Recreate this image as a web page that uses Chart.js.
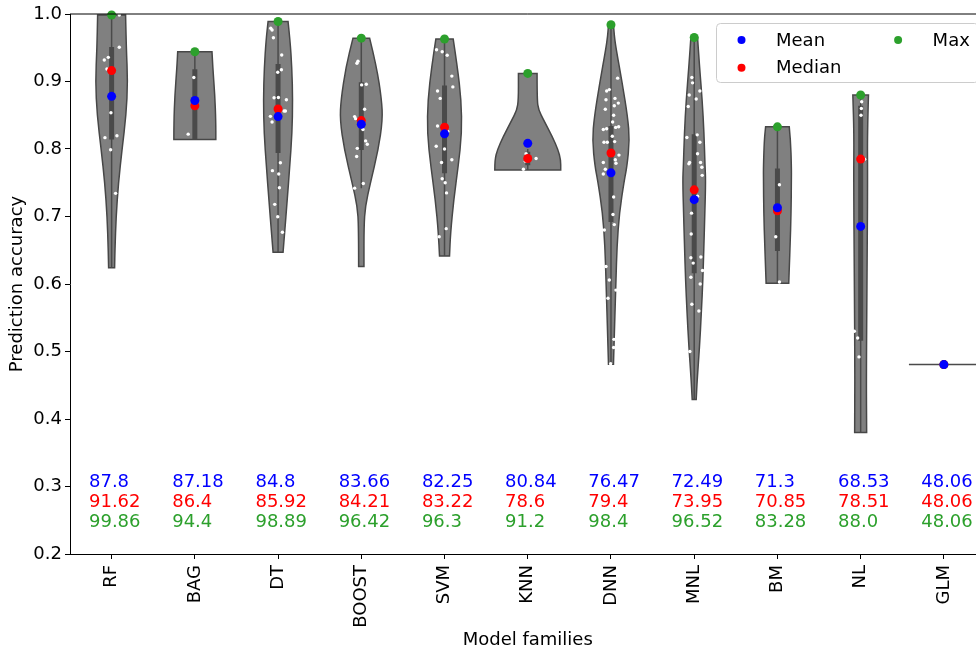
<!DOCTYPE html>
<html>
<head>
<meta charset="utf-8">
<script src="https://cdn.jsdelivr.net/npm/chart.js@4"></script>
<style>
  html, body { margin: 0; padding: 0; background: #fff; overflow: hidden; }
  #wrap { width: 990px; height: 655px; }
</style>
</head>
<body>
<div id="wrap"><canvas id="chart" width="990" height="655"></canvas></div>
<script>
const families = ['RF', 'BAG', 'DT', 'BOOST', 'SVM', 'KNN', 'DNN', 'MNL', 'BM', 'NL', 'GLM'];

// summary stats in percent (shown as text and as dots)
const meanPct   = [87.8, 87.18, 84.8, 83.66, 82.25, 80.84, 76.47, 72.49, 71.3, 68.53, 48.06];
const medianPct = [91.62, 86.4, 85.92, 84.21, 83.22, 78.6, 79.4, 73.95, 70.85, 78.51, 48.06];
const maxPct    = [99.86, 94.4, 98.89, 96.42, 96.3, 91.2, 98.4, 96.52, 83.28, 88.0, 48.06];

// inner box plot
const q1          = [0.814, 0.815, 0.794, 0.7985, 0.764, 0.776, 0.692, 0.616, 0.649, 0.516, null];
const q3          = [0.951, 0.918, 0.926, 0.899, 0.894, 0.796, 0.834, 0.822, 0.771, 0.864, null];
const whiskerLow  = [0.624, 0.814, 0.647, 0.742, 0.6415, 0.769, 0.481, 0.429, 0.601, 0.380, null];
const whiskerHigh = [0.9986, 0.944, 0.9889, 0.9642, 0.963, 0.80, 0.984, 0.9652, 0.8328, 0.88, null];

// violin outlines: [accuracy, half width in category units]
const violinRF    = [[0.9986, 0.168], [0.95, 0.176], [0.9, 0.194], [0.85, 0.174], [0.8, 0.126], [0.75, 0.082], [0.7, 0.054], [0.65, 0.04], [0.624, 0.036]];
const violinBAG   = [[0.944, 0.206], [0.92, 0.216], [0.88, 0.24], [0.84, 0.252], [0.814, 0.252]];
const violinDT    = [[0.9889, 0.12], [0.9615, 0.144], [0.92, 0.166], [0.873, 0.176], [0.823, 0.168], [0.774, 0.14], [0.724, 0.11], [0.675, 0.078], [0.647, 0.06]];
const violinBOOST = [[0.9642, 0.1], [0.922, 0.184], [0.873, 0.244], [0.843, 0.256], [0.799, 0.204], [0.749, 0.108], [0.715, 0.048], [0.685, 0.032], [0.626, 0.032]];
const violinSVM   = [[0.963, 0.104], [0.922, 0.154], [0.873, 0.2], [0.823, 0.208], [0.774, 0.164], [0.724, 0.11], [0.675, 0.072], [0.6415, 0.06]];
const violinKNN   = [[0.912, 0.112], [0.873, 0.112], [0.858, 0.13], [0.843, 0.19], [0.818, 0.296], [0.799, 0.364], [0.784, 0.396], [0.769, 0.396]];
const violinDNN   = [[0.984, 0.03], [0.967, 0.04], [0.947, 0.064], [0.897, 0.136], [0.848, 0.2], [0.813, 0.224], [0.774, 0.192], [0.754, 0.16], [0.705, 0.1], [0.655, 0.072], [0.606, 0.06], [0.557, 0.048], [0.507, 0.036], [0.481, 0.03]];
const violinMNL   = [[0.9652, 0.04], [0.922, 0.064], [0.873, 0.096], [0.823, 0.118], [0.774, 0.13], [0.754, 0.138], [0.705, 0.128], [0.655, 0.116], [0.606, 0.104], [0.557, 0.086], [0.507, 0.064], [0.458, 0.036], [0.429, 0.024]];
const violinBM    = [[0.8328, 0.142], [0.813, 0.158], [0.774, 0.168], [0.754, 0.168], [0.705, 0.164], [0.655, 0.152], [0.63, 0.144], [0.601, 0.136]];
const violinNL    = [[0.88, 0.094], [0.823, 0.08], [0.754, 0.084], [0.606, 0.076], [0.458, 0.068], [0.38, 0.072]];
const violinGLM   = [[0.4806, 0.42]];
const violins = [violinRF, violinBAG, violinDT, violinBOOST, violinSVM, violinKNN, violinDNN, violinMNL, violinBM, violinNL, violinGLM];

// individual runs: [accuracy, jitter in category units]
const ptsRF    = [[0.9985, 0.092], [0.9507, 0.092], [0.9319, -0.088], [0.9358, -0.04], [0.9185, -0.056], [0.8538, -0.008], [0.8168, -0.08], [0.8197, 0.064], [0.799, -0.012], [0.7343, 0.048]];
const ptsBAG   = [[0.906, -0.012], [0.822, -0.08]];
const ptsDT    = [[0.9763, -0.072], [0.9788, -0.088], [0.9649, -0.056], [0.9393, 0.044], [0.9136, -0.004], [0.9175, 0.04], [0.876, -0.048], [0.8763, 0.004], [0.873, 0.1], [0.8484, -0.092], [0.84, -0.072], [0.8563, 0.088], [0.8563, 0.072], [0.7679, -0.068], [0.7797, 0.028], [0.763, 0.008], [0.7427, 0.016], [0.718, -0.04], [0.6997, -0.004], [0.6766, 0.052]];
const ptsBOOST = [[0.927, -0.052], [0.930, -0.04], [0.895, 0.004], [0.896, 0.06], [0.859, 0.04], [0.848, -0.08], [0.845, -0.068], [0.829, 0.02], [0.812, 0.052], [0.807, 0.072], [0.801, -0.048], [0.789, -0.056], [0.749, 0.024], [0.742, -0.08]];
const ptsSVM   = [[0.947, -0.096], [0.944, -0.028], [0.939, 0.032], [0.908, 0.088], [0.892, 0.1], [0.886, -0.084], [0.875, -0.052], [0.834, -0.084], [0.826, 0.04], [0.804, -0.1], [0.800, 0], [0.784, 0.088], [0.780, -0.036], [0.756, -0.028], [0.750, 0.008], [0.735, 0.024], [0.682, 0.02], [0.670, -0.064]];
const ptsKNN   = [[0.782, -0.028], [0.793, -0.02], [0.786, 0.1], [0.770, -0.052]];
const ptsDNN   = [[0.905, 0.08], [0.888, -0.02], [0.886, -0.052], [0.873, -0.06], [0.875, 0.048], [0.868, 0.088], [0.864, 0.04], [0.859, -0.068], [0.850, 0.032], [0.840, 0.02], [0.829, -0.092], [0.830, -0.052], [0.832, 0.056], [0.833, 0.092], [0.819, 0.016], [0.810, -0.084], [0.810, -0.044], [0.811, 0.044], [0.791, 0.096], [0.784, 0.052], [0.779, 0.06], [0.780, -0.092], [0.770, -0.068], [0.763, -0.092], [0.729, 0.032], [0.703, 0.024], [0.688, 0.04], [0.680, -0.08], [0.626, -0.06], [0.606, -0.02], [0.579, -0.036], [0.591, 0.06], [0.518, 0.036], [0.506, 0.032], [0.482, -0.004]];
const ptsMNL   = [[0.906, -0.028], [0.898, -0.02], [0.886, 0.068], [0.880, -0.06], [0.874, 0.024], [0.863, -0.072], [0.817, -0.088], [0.821, 0.036], [0.810, 0.068], [0.793, 0.04], [0.780, -0.056], [0.778, -0.064], [0.780, 0.076], [0.773, 0.092], [0.761, 0.096], [0.730, 0.04], [0.705, -0.032], [0.674, -0.036], [0.639, -0.04], [0.631, -0.012], [0.640, 0.08], [0.620, 0.1], [0.610, -0.04], [0.600, 0.072], [0.570, -0.028], [0.560, 0.056], [0.500, -0.052]];
const ptsBM    = [[0.747, 0.024], [0.670, -0.02], [0.603, 0.024]];
const ptsNL    = [[0.870, 0.012], [0.860, 0.008], [0.850, 0.004], [0.785, 0.048], [0.530, -0.076], [0.520, -0.036], [0.492, -0.02]];
const ptsGLM   = [];
const runs = [ptsRF, ptsBAG, ptsDT, ptsBOOST, ptsSVM, ptsKNN, ptsDNN, ptsMNL, ptsBM, ptsNL, ptsGLM];

const FONT = 'DejaVu Sans';
Chart.defaults.font.family = FONT;
Chart.defaults.font.size = 18;
Chart.defaults.color = '#000';

function fmt(v) {
    return Number.isInteger(v) ? v.toFixed(1) : String(v);
}

// one smooth side of a violin, through the given pixel points
function traceSide(ctx, pts) {
    ctx.lineTo(pts[0][0], pts[0][1]);
    for (let k = 1; k < pts.length - 1; k++) {
        const mx = (pts[k][0] + pts[k + 1][0]) / 2;
        const my = (pts[k][1] + pts[k + 1][1]) / 2;
        ctx.quadraticCurveTo(pts[k][0], pts[k][1], mx, my);
    }
    ctx.lineTo(pts[pts.length - 1][0], pts[pts.length - 1][1]);
}

const violinPlugin = {
    id: 'violins',
    beforeDatasetsDraw(chart) {
        const {ctx, chartArea, scales: {x, y}} = chart;
        ctx.save();
        ctx.beginPath();
        ctx.rect(chartArea.left, chartArea.top, chartArea.width, chartArea.height);
        ctx.clip();
        violins.forEach((shape, i) => {
            if (shape.length === 1) {
                // single run: the violin collapses to a flat line
                const [v, w] = shape[0];
                ctx.beginPath();
                ctx.moveTo(x.getPixelForValue(i - w), y.getPixelForValue(v));
                ctx.lineTo(x.getPixelForValue(i + w), y.getPixelForValue(v));
                ctx.strokeStyle = '#4a4a4a';
                ctx.lineWidth = 1.5;
                ctx.stroke();
                return;
            }
            const right = shape.map(([v, w]) => [x.getPixelForValue(i + w), y.getPixelForValue(v)]);
            const left = shape.map(([v, w]) => [x.getPixelForValue(i - w), y.getPixelForValue(v)]).reverse();
            ctx.beginPath();
            ctx.moveTo(left[left.length - 1][0], left[left.length - 1][1]);
            traceSide(ctx, right);
            traceSide(ctx, left);
            ctx.closePath();
            ctx.fillStyle = '#808080';
            ctx.fill();
            ctx.strokeStyle = '#474747';
            ctx.lineWidth = 1.5;
            ctx.stroke();

            // inner box
            if (q1[i] === null) return;
            const cx = x.getPixelForValue(i);
            ctx.strokeStyle = '#4a4a4a';
            ctx.lineCap = 'butt';
            ctx.lineWidth = 1.5;
            ctx.beginPath();
            ctx.moveTo(cx, y.getPixelForValue(whiskerLow[i]));
            ctx.lineTo(cx, y.getPixelForValue(whiskerHigh[i]));
            ctx.stroke();
            ctx.lineWidth = 5;
            ctx.beginPath();
            ctx.moveTo(cx, y.getPixelForValue(q1[i]));
            ctx.lineTo(cx, y.getPixelForValue(q3[i]));
            ctx.stroke();
        });
        ctx.restore();
    }
};

const statTextPlugin = {
    id: 'statText',
    afterDatasetsDraw(chart) {
        const {ctx, scales: {x, y}} = chart;
        const rows = [[meanPct, '#0000ff', 0.30], [medianPct, '#ff0000', 0.27], [maxPct, '#2ca02c', 0.24]];
        ctx.save();
        ctx.font = '18px ' + FONT;
        ctx.textAlign = 'left';
        ctx.textBaseline = 'alphabetic';
        rows.forEach(([vals, color, level]) => {
            ctx.fillStyle = color;
            vals.forEach((v, i) => {
                ctx.fillText(fmt(v), x.getPixelForValue(i - 0.272), y.getPixelForValue(level));
            });
        });
        ctx.restore();
    }
};

const frameLegendPlugin = {
    id: 'frameLegend',
    afterDraw(chart) {
        const {ctx, chartArea} = chart;
        ctx.save();
        // top spine
        ctx.strokeStyle = '#000';
        ctx.lineWidth = 1;
        ctx.beginPath();
        ctx.moveTo(chartArea.left, chartArea.top);
        ctx.lineTo(chartArea.right, chartArea.top);
        ctx.stroke();

        // legend box, two columns
        const items = chart.data.datasets.filter(d => d.inLegend);
        const bx = 716.5, by = 23.5, bw = chartArea.right - 7 - bx, bh = 59;
        ctx.fillStyle = 'rgba(255,255,255,0.8)';
        ctx.strokeStyle = '#cccccc';
        ctx.beginPath();
        ctx.roundRect(bx, by, bw, bh, 4);
        ctx.fill();
        ctx.stroke();
        ctx.font = '18px ' + FONT;
        ctx.textAlign = 'left';
        ctx.textBaseline = 'middle';
        items.forEach((d, k) => {
            const col = Math.floor(k / 2), row = k % 2;
            const dx = bx + 25 + col * 156.6;
            const dy = by + 16.5 + row * 27.7;
            ctx.fillStyle = d.backgroundColor;
            ctx.beginPath();
            ctx.arc(dx, dy, 4, 0, Math.PI * 2);
            ctx.fill();
            ctx.fillStyle = '#000';
            ctx.fillText(d.label, dx + 34.5, dy + 1);
        });
        ctx.restore();
    }
};

const runPoints = [];
runs.forEach((list, i) => list.forEach(([v, j]) => runPoints.push({x: i + j, y: v})));

function statPoints(vals) {
    return vals.map((v, i) => ({x: i, y: v / 100}));
}

new Chart(document.getElementById('chart'), {
    type: 'scatter',
    data: {
        datasets: [
            {label: 'Mean', data: statPoints(meanPct), backgroundColor: '#0000ff', borderWidth: 0, pointRadius: 4.5, order: 1, inLegend: true, clip: false},
            {label: 'Median', data: statPoints(medianPct), backgroundColor: '#ff0000', borderWidth: 0, pointRadius: 4.5, order: 2, inLegend: true, clip: false},
            {label: 'Max', data: statPoints(maxPct), backgroundColor: '#2ca02c', borderWidth: 0, pointRadius: 4.5, order: 3, inLegend: true, clip: false},
            {label: 'runs', data: runPoints, backgroundColor: '#ffffff', borderWidth: 0, pointRadius: 1.7, order: 4}
        ]
    },
    options: {
        responsive: false,
        animation: false,
        devicePixelRatio: 1,
        layout: {padding: {top: 14, right: 3.3, left: 0, bottom: 0}},
        plugins: {
            legend: {display: false},
            tooltip: {enabled: false}
        },
        scales: {
            x: {
                type: 'linear',
                min: -0.5,
                max: 10.5,
                afterBuildTicks: (scale) => { scale.ticks = families.map((f, i) => ({value: i})); },
                afterFit: (scale) => { scale.height = 101; },
                ticks: {
                    autoSkip: false,
                    minRotation: 90,
                    maxRotation: 90,
                    padding: 6,
                    color: '#000',
                    callback: (v) => families[v] || ''
                },
                grid: {drawOnChartArea: false, tickLength: 5, tickColor: '#000'},
                border: {display: true, color: '#000', width: 1},
                title: {display: true, text: 'Model families', color: '#000', padding: {top: 0, bottom: 4}}
            },
            y: {
                min: 0.2,
                max: 1.0,
                afterFit: (scale) => { scale.width = 70; },
                ticks: {
                    stepSize: 0.1,
                    padding: 3,
                    color: '#000',
                    callback: (v) => v.toFixed(1)
                },
                grid: {drawOnChartArea: false, tickLength: 5, tickColor: '#000'},
                border: {display: true, color: '#000', width: 1},
                title: {display: true, text: 'Prediction accuracy', color: '#000', padding: {top: 7, bottom: 0}}
            }
        }
    },
    plugins: [violinPlugin, statTextPlugin, frameLegendPlugin]
});
</script>
</body>
</html>
